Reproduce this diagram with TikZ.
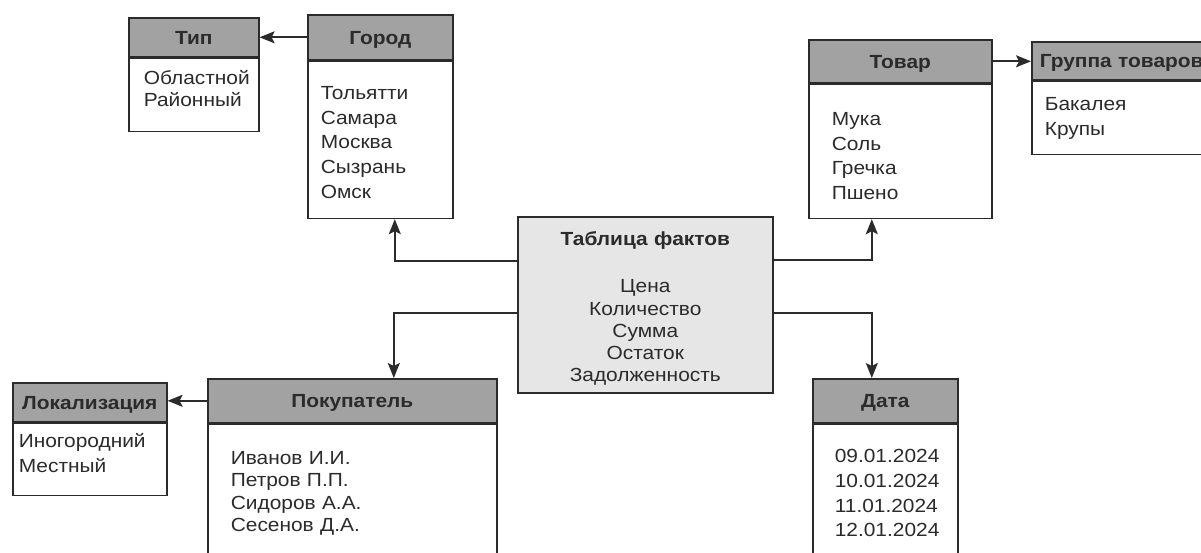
\documentclass[tikz,border=0pt]{standalone}
\usepackage{fontspec}
\setmainfont[FakeStretch=1.1]{Liberation Sans}
\usepackage{tikz}
\usetikzlibrary{arrows.meta}

\definecolor{hdrgray}{HTML}{A2A2A2}
\definecolor{factgray}{HTML}{E6E6E6}
\definecolor{linegray}{HTML}{2B2B2B}

\begin{document}
\begin{tikzpicture}[x=1pt,y=-1pt
  ,->,>={Stealth[length=15pt,width=12pt,inset=3pt]}
  ,line width=1.6pt
  ,color=linegray]
  \tikzstyle{head}=[draw, fill=hdrgray, anchor=north west,
    inner sep=0pt, text height=14pt, text depth=0pt,
    font=\bfseries\fontsize{19}{22}\selectfont]
  \tikzstyle{body}=[draw, fill=white, anchor=north west,
    inner ysep=0pt, align=left,
    font=\fontsize{19}{24.8}\selectfont]
  \tikzstyle{tight}=[font=\fontsize{19}{22.4}\selectfont]

  \useasboundingbox (0,0) rectangle (1201,553);
  \clip (0,0) rectangle (1201,553);

  % top row: Тип <- Город, Товар -> Группа товаров
  \node[head, minimum width=130pt, minimum height=39pt] (tip) at (128,17) {Тип};
  \node[body, tight, inner xsep=15pt, text width=100pt,
    text height=26pt, text depth=47pt] (tipb) at (tip.south west)
    {Областной\\Районный};

  \node[head, minimum width=145pt, minimum height=45pt] (gorod) at (307,14) {Город};
  \node[body, inner xsep=13pt, text width=119pt,
    text height=38pt, text depth=119pt] (gorodb) at (gorod.south west)
    {Тольятти\\Самара\\Москва\\Сызрань\\Омск};

  \node[head, minimum width=183pt, minimum height=43pt] (tovar) at (808,39) {Товар};
  \node[body, inner xsep=23pt, text width=137pt,
    text height=41pt, text depth=93pt] (tovarb) at (tovar.south west)
    {Мука\\Соль\\Гречка\\Пшено};

  \node[head, minimum height=38pt, inner xsep=8pt, text width=169pt,
    align=left] (gruppa) at (1031,41) {Группа товаров};
  \node[body, inner xsep=13pt, text width=159pt,
    text height=29pt, text depth=44pt] (gruppab) at (gruppa.south west)
    {Бакалея\\Крупы};

  % fact table
  \node[draw, fill=factgray, anchor=north west, inner sep=0pt,
    text width=255pt, align=center, text height=29pt, text depth=147pt,
    font=\fontsize{19}{22.25}\selectfont] (fakty) at (517,216)
    {\textbf{Таблица фактов}\\[24.75pt]Цена\\Количество\\Сумма\\Остаток\\Задолженность};

  % bottom row: Локализация <- Покупатель, Дата
  \node[head, minimum width=154pt, minimum height=39pt] (lokal) at (12,382) {Локализация};
  \node[body, inner xsep=6pt, text width=142pt,
    text height=24pt, text depth=48pt] (lokalb) at (lokal.south west)
    {Иногородний\\Местный};

  \node[head, minimum width=289pt, minimum height=44pt] (pokup) at (207,378) {Покупатель};
  \node[body, tight, inner xsep=23pt, text width=243pt,
    text height=40pt, text depth=160pt] (pokupb) at (pokup.south west)
    {Иванов И.И.\\Петров П.П.\\Сидоров А.А.\\Сесенов Д.А.};

  \node[head, minimum width=145pt, minimum height=44pt] (data) at (812,378) {Дата};
  \node[body, inner xsep=22pt, text width=101pt,
    text height=38pt, text depth=162pt] (datab) at (data.south west)
    {09.01.2024\\10.01.2024\\11.01.2024\\12.01.2024};

  \path (gorod) edge (tip)
  (tovar.east) edge (tovar.east -| gruppa.west)
  (pokup.west) edge (pokup.west -| lokal.east);

  \draw ([yshift=44pt]fakty.west) -| ([xshift=14.5pt]gorodb.south);
  \draw ([yshift=45pt]fakty.east) -| ([xshift=-28.5pt]tovarb.south);
  \draw ([yshift=-8pt]fakty.west) -| ([xshift=41.5pt]pokup.north);
  \draw ([yshift=-8pt]fakty.east) -| ([xshift=-13.5pt]data.north);

\end{tikzpicture}
\end{document}
